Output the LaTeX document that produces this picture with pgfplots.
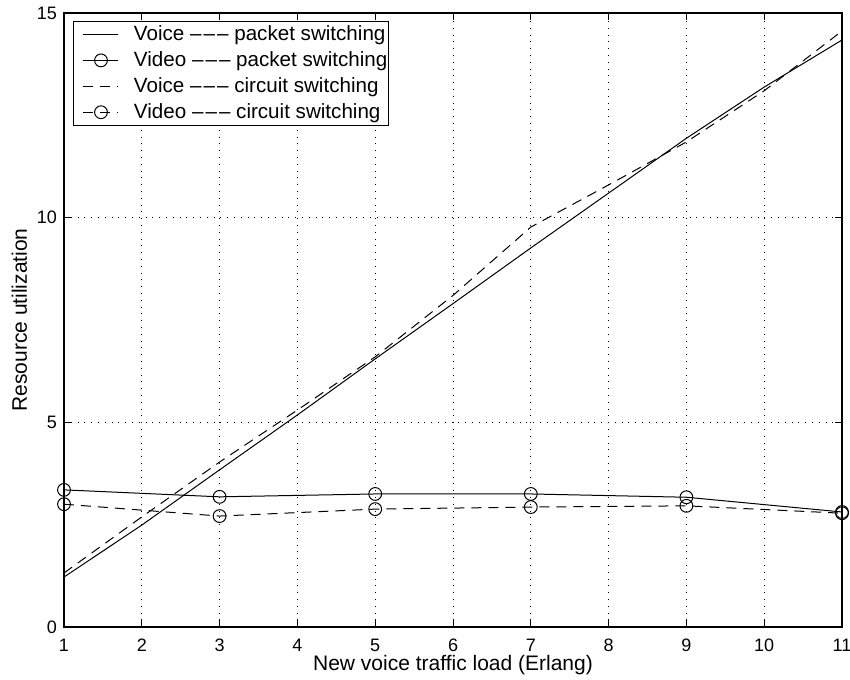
\documentclass[border=0pt]{standalone}
\usepackage{fontspec}
\setmainfont{Liberation Sans}
\usepackage{pgfplots}
\pgfplotsset{compat=1.18}
\newcommand{\ddd}{\textendash\kern0.1em\textendash\kern0.1em\textendash}
\pgfplotsset{mylegend/.style={legend image code/.code={%
   \path[draw=none,fill=none] (0pt,0pt) -- (4.5pt,0pt);
   \draw[mark repeat=2,mark phase=2,##1] plot coordinates {(4.5pt,0pt) (13.25pt,0pt) (22pt,0pt)};}}}
\begin{document}
\begin{tikzpicture}
\begin{axis}[
 width=389pt, height=307pt, scale only axis,
 xmin=1, xmax=11, ymin=0, ymax=15,
 xtick={1,...,11}, ytick={0,5,10,15},
 tick align=inside, major tick length=3.5pt,
 grid=major,
 major grid style={black, line width=0.35pt, dash pattern=on 0.4pt off 3pt},
 axis line style={line width=0.75pt},
 every tick/.style={black, line width=0.5pt},
 tick label style={font=\fontsize{9}{10}\selectfont},
 xticklabel style={yshift=-2.3pt},
 /pgf/number format/assume math mode=true,
 xlabel={New voice traffic load (Erlang)},
 ylabel={Resource utilization},
 label style={font=\fontsize{10.5}{12}\selectfont},
 xlabel style={yshift=5pt},
 ylabel style={yshift=-2pt},
 legend style={at={(0,1)}, xshift=4.5pt, yshift=-4pt, anchor=north west,
   font=\fontsize{10.3}{12}\selectfont, draw=black, line width=0.5pt,
   row sep=0pt, inner xsep=0.5pt, inner ysep=0pt,
   nodes={inner xsep=0pt},
   /tikz/every odd column/.append style={column sep=7.5pt}},
 legend cell align=left,
 mylegend,
]
\addplot[black, line width=0.5pt] coordinates {
(1,1.22) (2,2.49) (3,3.84) (4,5.18) (5,6.55) (6,7.9) (7,9.26) (8,10.6) (9,11.94) (10,13.19) (11,14.34)};
\addlegendentry{Voice \ddd{} packet switching}
\addplot[black, line width=0.5pt, mark=o, mark size=3.2pt, mark options={solid}] coordinates {
(1,3.35) (3,3.18) (5,3.25) (7,3.25) (9,3.17) (11,2.81)};
\addlegendentry{Video \ddd{} packet switching}
\addplot[black, line width=0.5pt, dash pattern=on 5pt off 3.5pt] coordinates {
(1,1.32) (2,2.69) (3,4.03) (4,5.3) (5,6.6) (6,8.1) (7,9.77) (8,10.8) (9,11.85) (10,13.1) (11,14.56)};
\addlegendentry{Voice \ddd{} circuit switching}
\addplot[black, line width=0.5pt, dash pattern=on 5pt off 3.5pt, mark=o, mark size=3.2pt, mark options={solid}] coordinates {
(1,3.0) (3,2.71) (5,2.88) (7,2.93) (9,2.96) (11,2.78)};
\addlegendentry{Video \ddd{} circuit switching}
\end{axis}
\pgfresetboundingbox
\path ([shift={(-32pt,-26pt)}]current axis.south west) rectangle ([shift={(4pt,6.5pt)}]current axis.north east);
\end{tikzpicture}
\end{document}
